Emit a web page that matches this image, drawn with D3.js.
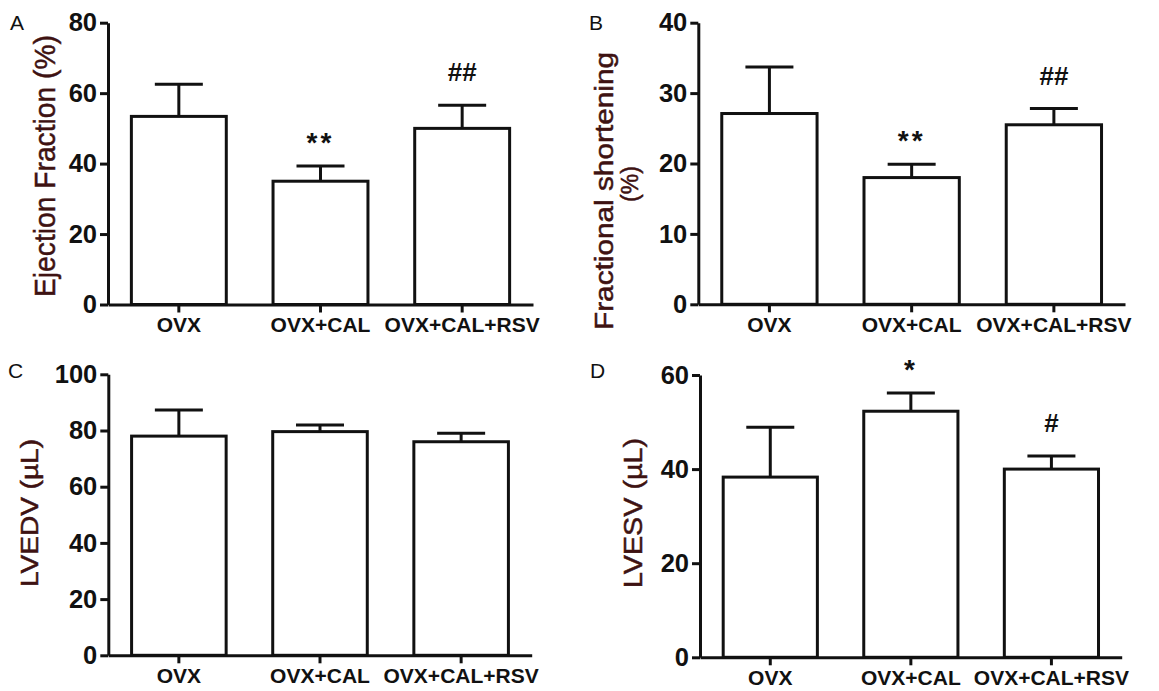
<!DOCTYPE html>
<html lang="en">
<head>
<meta charset="UTF-8">
<title>Echocardiography</title>
<script src="https://d3js.org/d3.v7.min.js"></script>
<style>
    body { margin: 0; background: #fff; }
    svg text { font-family: "Liberation Sans", Arial, sans-serif; }
    .axis path, .axis line { stroke: #111; stroke-width: 3px; }
    .axis text { font-weight: bold; fill: #111; }
</style>
</head>
<body>
<svg id="chart" width="1159" height="691"></svg>
<script>
const groups = ["OVX", "OVX+CAL", "OVX+CAL+RSV"];

// A: ejection fraction (%)
const efMean = [53.4, 35.0, 50.0];
const efSem = [9.1, 4.3, 6.6];
const efMarks = ["", "**", "##"];
const efTicks = [0, 20, 40, 60, 80];

// B: fractional shortening (%)
const fsMean = [27.1, 18.0, 25.5];
const fsSem = [6.6, 1.9, 2.3];
const fsMarks = ["", "**", "##"];
const fsTicks = [0, 10, 20, 30, 40];

// C: LVEDV (uL)
const edvMean = [78.0, 79.6, 76.0];
const edvSem = [9.3, 2.4, 3.0];
const edvMarks = ["", "", ""];
const edvTicks = [0, 20, 40, 60, 80, 100];

// D: LVESV (uL)
const esvMean = [38.3, 52.3, 40.0];
const esvSem = [10.6, 3.9, 2.8];
const esvMarks = ["", "*", "#"];
const esvTicks = [0, 20, 40, 60];

const svg = d3.select("#chart");
const titleColor = "#3e1212";

const panels = [
    {letter: "A", mean: efMean, sem: efSem, marks: efMarks, ticks: efTicks,
     ax: 108, xEnd: 533, y0: 304.5, yTop: 22.7, lx: 10, ly: 30,
     titles: [{text: "Ejection Fraction (%)", x: 55, y: 166, size: 30, len: 262}]},
    {letter: "B", mean: fsMean, sem: fsSem, marks: fsMarks, ticks: fsTicks,
     ax: 698.3, xEnd: 1125, y0: 304.3, yTop: 22.7, lx: 589, ly: 30,
     titles: [{text: "Fractional shortening", x: 613, y: 191, size: 25, len: 278},
              {text: "(%)", x: 638, y: 184, size: 23}]},
    {letter: "C", mean: edvMean, sem: edvSem, marks: edvMarks, ticks: edvTicks,
     ax: 108.3, xEnd: 531.7, y0: 655.3, yTop: 374.3, lx: 8, ly: 378,
     titles: [{text: "LVEDV (µL)", x: 38, y: 513, size: 23, len: 148}]},
    {letter: "D", mean: esvMean, sem: esvSem, marks: esvMarks, ticks: esvTicks,
     ax: 700, xEnd: 1121.7, y0: 657.3, yTop: 375, lx: 590, ly: 378,
     titles: [{text: "LVESV (µL)", x: 642, y: 513, size: 25, len: 150}]}
];

panels.forEach(p => {
    const g = svg.append("g");
    const data = groups.map((name, i) => ({name, mean: p.mean[i], sem: p.sem[i], mark: p.marks[i]}));

    const x = d3.scaleBand().domain(groups).range([p.ax, p.xEnd])
        .paddingInner(0.33).paddingOuter(0.165);
    const y = d3.scaleLinear().domain([0, d3.max(p.ticks)]).range([p.y0, p.yTop]);

    // bars
    g.selectAll(".bar").data(data).enter().append("rect")
        .attr("x", d => x(d.name))
        .attr("y", d => y(d.mean))
        .attr("width", x.bandwidth())
        .attr("height", d => y(0) - y(d.mean))
        .attr("fill", "#fff")
        .attr("stroke", "#111")
        .attr("stroke-width", 3);

    // error bars (upper only)
    const cx = d => x(d.name) + x.bandwidth() / 2;
    g.selectAll(".err").data(data).enter().append("line")
        .attr("x1", cx).attr("x2", cx)
        .attr("y1", d => y(d.mean)).attr("y2", d => y(d.mean + d.sem))
        .attr("stroke", "#111").attr("stroke-width", 3);
    g.selectAll(".cap").data(data).enter().append("line")
        .attr("x1", d => cx(d) - 24).attr("x2", d => cx(d) + 24)
        .attr("y1", d => y(d.mean + d.sem)).attr("y2", d => y(d.mean + d.sem))
        .attr("stroke", "#111").attr("stroke-width", 3);

    // significance marks
    g.selectAll(".mark").data(data.filter(d => d.mark)).enter().append("text")
        .attr("x", cx)
        .attr("y", d => y(d.mean + d.sem) - (d.mark[0] === "*" ? 14 : 24))
        .attr("text-anchor", "middle")
        .attr("font-weight", "bold")
        .attr("font-size", d => d.mark[0] === "*" ? 28 : 26)
        .attr("letter-spacing", d => d.mark[0] === "*" ? 3 : 0)
        .attr("fill", "#111")
        .text(d => d.mark);

    // axes
    g.append("g").attr("class", "axis")
        .attr("transform", `translate(0,${p.y0})`)
        .call(d3.axisBottom(x).tickSize(8).tickSizeOuter(0).tickPadding(5))
        .selectAll("text").attr("font-size", 21);
    g.append("g").attr("class", "axis")
        .attr("transform", `translate(${p.ax},0)`)
        .call(d3.axisLeft(y).tickValues(p.ticks).tickSize(8).tickSizeOuter(0).tickPadding(3))
        .selectAll("text").attr("font-size", 25.5);

    // axis titles
    p.titles.forEach(t => {
        const txt = svg.append("text")
            .attr("transform", `translate(${t.x},${t.y}) rotate(-90)`)
            .attr("text-anchor", "middle")
            .attr("font-size", t.size)
            .attr("fill", titleColor)
            .attr("stroke", titleColor)
            .attr("stroke-width", 0.5)
            .text(t.text);
        if (t.len) txt.attr("textLength", t.len).attr("lengthAdjust", "spacingAndGlyphs");
    });

    // panel letter
    svg.append("text")
        .attr("x", p.lx).attr("y", p.ly)
        .attr("font-size", 21)
        .attr("fill", "#111")
        .text(p.letter);
});
</script>
</body>
</html>
